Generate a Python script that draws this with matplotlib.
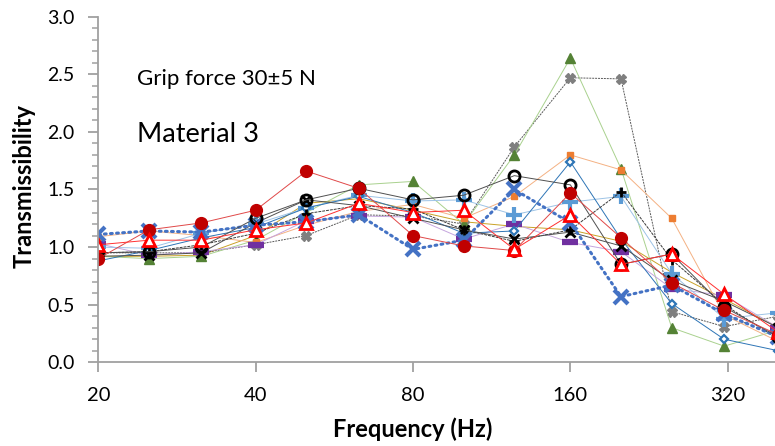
import numpy as np
import matplotlib
matplotlib.use("Agg")
import matplotlib.pyplot as plt
from matplotlib.ticker import MultipleLocator, NullLocator, FixedLocator, FixedFormatter

plt.rcParams['font.family'] = ['Lato', 'DejaVu Sans']

# third-octave centre frequencies (Hz)
freq = [20, 25, 31.5, 40, 50, 63, 80, 100, 125, 160, 200, 250, 315, 400]

# transmissibility, one list per series
gold_line = [0.92, 0.92, 0.93, 1.10, 1.38, 1.42, 1.32, 1.22, 1.18, 1.15, 1.05, 0.78, 0.55, 0.30]
gray_x = [0.95, 0.95, 0.95, 1.02, 1.10, 1.28, 1.27, 1.20, 1.87, 2.47, 2.46, 0.44, 0.31, 0.40]
green_tri = [0.92, 0.90, 0.92, 1.06, 1.30, 1.54, 1.57, 1.20, 1.80, 2.64, 1.68, 0.30, 0.14, 0.28]
orange_sq = [1.09, 1.14, 1.10, 1.04, 1.19, 1.31, 1.37, 1.25, 1.44, 1.80, 1.67, 1.25, 0.41, 0.18]
purple_bar = [1.03, 0.93, 0.96, 1.02, 1.23, 1.27, 1.26, 1.07, 1.20, 1.04, 0.96, 0.64, 0.58, 0.30]
light_plus = [1.00, 0.99, 1.12, 1.20, 1.34, 1.45, 1.40, 1.41, 1.28, 1.39, 1.44, 0.77, 0.38, 0.43]
blue_diam = [0.88, 0.97, 1.08, 1.17, 1.34, 1.44, 1.30, 1.12, 1.14, 1.74, 1.07, 0.51, 0.20, 0.10]
black_plus = [0.95, 0.96, 1.02, 1.12, 1.29, 1.36, 1.33, 1.15, 1.05, 1.15, 1.48, 0.89, 0.50, 0.20]
black_x = [0.92, 0.93, 0.95, 1.21, 1.41, 1.36, 1.25, 1.15, 1.07, 1.13, 1.01, 0.71, 0.53, 0.30]
blue_x = [1.11, 1.14, 1.13, 1.19, 1.22, 1.28, 0.98, 1.06, 1.50, 1.21, 0.57, 0.67, 0.42, 0.22]
red_tri = [1.02, 1.06, 1.06, 1.15, 1.21, 1.38, 1.30, 1.32, 0.98, 1.28, 0.85, 0.94, 0.59, 0.26]
black_circle = [0.95, 0.96, 1.00, 1.25, 1.41, 1.51, 1.41, 1.45, 1.62, 1.54, 0.85, 0.94, 0.48, 0.22]
red_circle = [0.90, 1.15, 1.21, 1.32, 1.66, 1.51, 1.10, 1.01, 0.97, 1.47, 1.08, 0.69, 0.45, 0.24]

xticks = [20, 40, 80, 160, 320]
xticklabels = ['20', '40', '80', '160', '320']

fig = plt.figure(figsize=(7.75, 4.46), dpi=100)
ax = fig.add_axes([0.1268, 0.1877, 0.8776, 0.7749])

lw = 0.7
ax.plot(freq, gold_line, color='#C9A227', lw=lw)
ax.plot(freq, gray_x, color='#595959', lw=lw, ls=(0, (2, 1)),
        marker='X', ms=7, mfc='#7F7F7F', mec='#7F7F7F')
ax.plot(freq, green_tri, color='#A9D18E', lw=lw,
        marker='^', ms=7.5, mfc='#548235', mec='#548235')
ax.plot(freq, orange_sq, color='#F4B183', lw=lw,
        marker='s', ms=4.5, mfc='#ED7D31', mec='#ED7D31')
ax.plot(freq, purple_bar, color='#C5A5DE', lw=lw,
        marker='_', ms=11, mew=4.5, mec='#7030A0')
ax.plot(freq, light_plus, color='#9DC3E6', lw=lw,
        marker='+', ms=11, mew=3, mec='#5B9BD5')
ax.plot(freq, blue_diam, color='#2E75B6', lw=lw,
        marker='D', ms=4.5, mew=1.6, mfc='white', mec='#2E75B6')
ax.plot(freq, black_plus, color='#3A3A3A', lw=lw, ls=(0, (3, 1)),
        marker='+', ms=7, mew=2, mec='black')
ax.plot(freq, black_x, color='#505050', lw=lw,
        marker='x', ms=7, mew=2, mec='black')
ax.plot(freq, blue_x, color='#4472C4', lw=2.2, ls=(0, (0.6, 1.4)),
        dash_capstyle='round', marker='x', ms=10, mew=3, mec='#4472C4')
ax.plot(freq, black_circle, color='#505050', lw=lw,
        marker='o', ms=8, mew=2, mfc='none', mec='black')
ax.plot(freq, red_circle, color='#E04848', lw=lw,
        marker='o', ms=8.5, mfc='#C00000', mec='#C00000')
ax.plot(freq, red_tri, color='#FF3030', lw=lw,
        marker='^', ms=8, mew=2, mfc='white', mec='#FF0000')

ax.set_xscale('log', base=2)
ax.set_xlim(20, 400)
ax.set_ylim(0, 3.0)
ax.xaxis.set_major_locator(FixedLocator(xticks))
ax.xaxis.set_major_formatter(FixedFormatter(xticklabels))
ax.xaxis.set_minor_locator(NullLocator())
ax.yaxis.set_major_locator(MultipleLocator(0.5))
ax.yaxis.set_minor_locator(MultipleLocator(0.1))
ax.yaxis.set_major_formatter(plt.FormatStrFormatter('%.1f'))

for s in ['top', 'right']:
    ax.spines[s].set_visible(False)
for s in ['left', 'bottom']:
    ax.spines[s].set_color('#A0A0A0')
    ax.spines[s].set_linewidth(1.3)

ax.tick_params(axis='y', which='major', length=7, width=1.3, color='#A0A0A0',
               labelsize=14, pad=10, labelcolor='black')
ax.tick_params(axis='y', which='minor', length=4, width=1.1, color='#A0A0A0')
ax.tick_params(axis='x', which='major', length=7, width=1.3, color='#A0A0A0',
               labelsize=14.5, pad=11, labelcolor='black')

fig.text(24 / 775, (446 - 186) / 446, 'Transmissibility', rotation=90,
         fontsize=17, fontweight='bold', ha='center', va='center')
fig.text(413 / 775, (446 - 437) / 446, 'Frequency (Hz)',
         fontsize=17, fontweight='bold', ha='center', va='baseline')

ax.text(0.0569, 0.8024, 'Grip force 30\u00b15 N', transform=ax.transAxes,
        fontsize=16, va='baseline', ha='left')
ax.text(0.0569, 0.6383, 'Material 3', transform=ax.transAxes,
        fontsize=19.5, va='baseline', ha='left')

fig.savefig('out.png', dpi=100)
